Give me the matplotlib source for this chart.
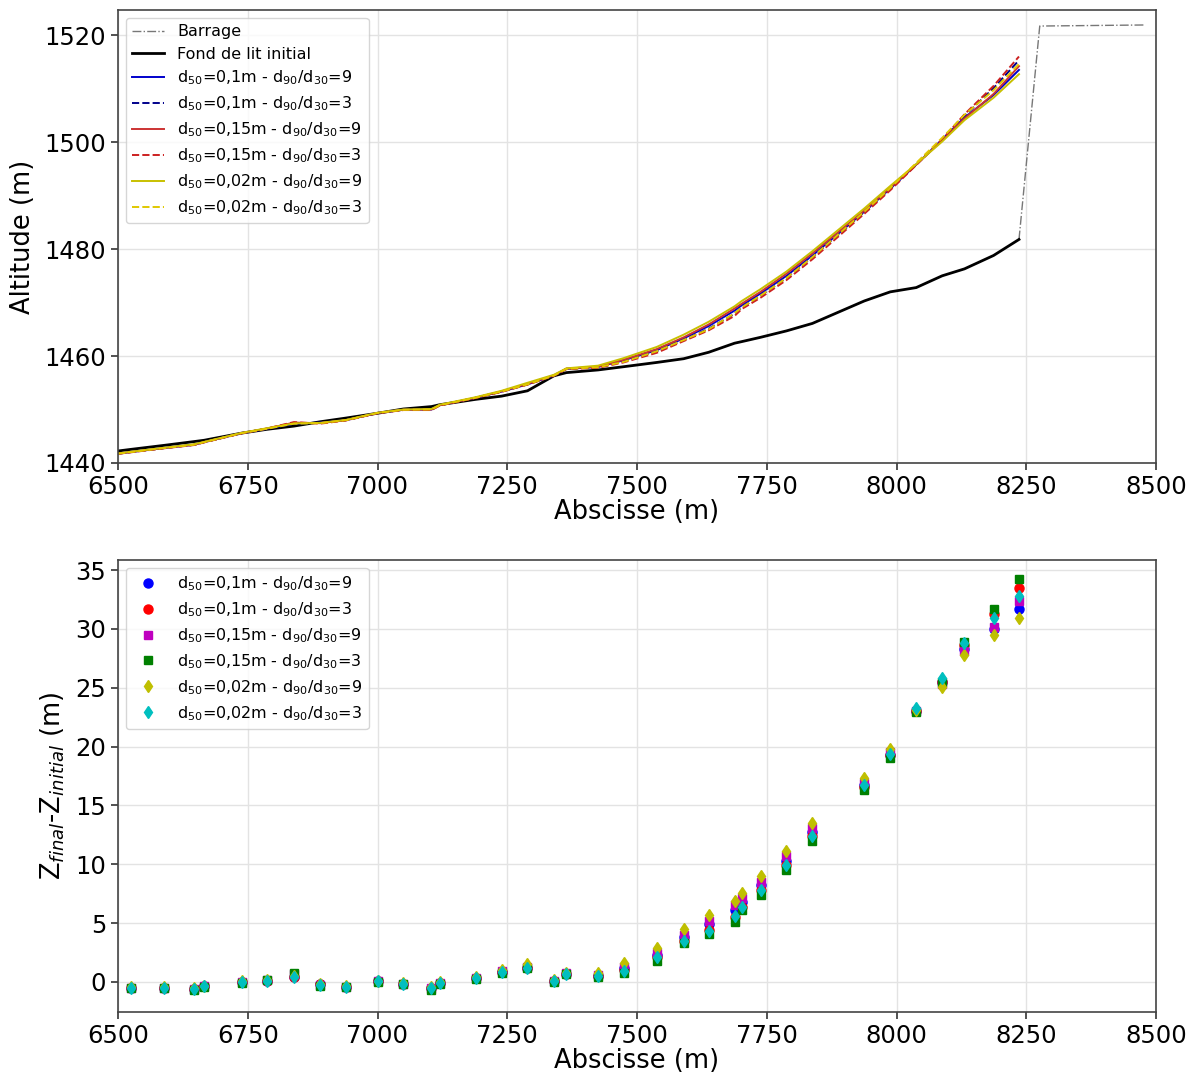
import numpy as np
import matplotlib
matplotlib.use("Agg")
import matplotlib.pyplot as plt

# ---------------- data ----------------
sections = [6480, 6525, 6589, 6646, 6666, 6739, 6787, 6839, 6889, 6939, 7000,
            7050, 7104, 7120, 7189, 7239, 7289, 7340, 7364, 7425, 7474,
            7538, 7590, 7638, 7688, 7702, 7738, 7788, 7838, 7938, 7988,
            8038, 8088, 8131, 8187, 8236]

z_initial = [1442.0, 1442.55, 1443.3, 1444.0, 1444.25, 1445.6, 1446.3, 1446.9,
             1447.7, 1448.4, 1449.3, 1450.1, 1450.55, 1450.9, 1451.9, 1452.5,
             1453.5, 1456.3, 1456.9, 1457.4, 1458.0, 1458.8, 1459.5, 1460.7,
             1462.4, 1462.7, 1463.5, 1464.7, 1466.1, 1470.3, 1472.0, 1472.8,
             1475.0, 1476.3, 1478.8, 1481.8]

barrage_x = [8236, 8276, 8478]
barrage_z = [1481.8, 1521.7, 1521.9]

# Z_final - Z_initial for each simulation
dz_d01_r9 = [-0.5, -0.5, -0.5, -0.6, -0.35, 0.0, 0.1, 0.45, -0.15, -0.4, 0.05,
             -0.15, -0.55, -0.1, 0.3, 0.85, 1.2, 0.05, 0.7, 0.55, 1.2,
             2.3, 3.8, 4.9, 6.1, 6.8, 8.2, 10.3, 12.7, 16.7, 19.3,
             23.0, 25.5, 28.3, 30.0, 31.7]
dz_d01_r3 = [-0.5, -0.5, -0.5, -0.6, -0.35, 0.0, 0.1, 0.45, -0.2, -0.4, 0.05,
             -0.15, -0.55, -0.1, 0.3, 0.85, 1.2, 0.05, 0.7, 0.5, 1.0,
             2.1, 3.5, 4.4, 5.5, 6.4, 7.8, 9.9, 12.4, 16.6, 19.3,
             23.0, 25.5, 28.6, 31.3, 33.5]
dz_d015_r9 = [-0.5, -0.5, -0.5, -0.6, -0.35, 0.0, 0.15, 0.65, -0.25, -0.4, 0.05,
              -0.15, -0.55, -0.1, 0.3, 0.9, 1.3, 0.1, 0.75, 0.6, 1.3,
              2.5, 4.0, 5.2, 6.5, 7.1, 8.5, 10.7, 13.1, 16.9, 19.5,
              23.0, 25.3, 28.1, 30.2, 32.4]
dz_d015_r3 = [-0.5, -0.55, -0.55, -0.65, -0.4, -0.05, 0.15, 0.75, -0.35, -0.45, 0.0,
              -0.2, -0.65, -0.15, 0.25, 0.8, 1.15, 0.0, 0.65, 0.4, 0.8,
              1.8, 3.3, 4.1, 5.1, 6.1, 7.4, 9.5, 12.0, 16.3, 19.0,
              22.9, 25.5, 28.9, 31.7, 34.2]
dz_d002_r9 = [-0.45, -0.45, -0.45, -0.5, -0.3, 0.05, 0.2, 0.5, -0.2, -0.35, 0.1,
              -0.1, -0.45, 0.0, 0.4, 1.0, 1.5, 0.2, 0.8, 0.8, 1.6,
              2.9, 4.5, 5.7, 6.9, 7.6, 9.0, 11.1, 13.5, 17.3, 19.8,
              23.1, 25.1, 27.8, 29.5, 30.9]
dz_d002_r3 = [-0.5, -0.5, -0.5, -0.6, -0.35, 0.0, 0.1, 0.45, -0.25, -0.4, 0.05,
              -0.15, -0.55, -0.1, 0.3, 0.85, 1.2, 0.05, 0.7, 0.5, 0.9,
              2.1, 3.5, 4.3, 5.6, 6.4, 7.8, 9.9, 12.4, 16.7, 19.4,
              23.3, 25.8, 28.8, 30.9, 32.8]

labels = ['d$_{50}$=0,1m - d$_{90}$/d$_{30}$=9',
          'd$_{50}$=0,1m - d$_{90}$/d$_{30}$=3',
          'd$_{50}$=0,15m - d$_{90}$/d$_{30}$=9',
          'd$_{50}$=0,15m - d$_{90}$/d$_{30}$=3',
          'd$_{50}$=0,02m - d$_{90}$/d$_{30}$=9',
          'd$_{50}$=0,02m - d$_{90}$/d$_{30}$=3']
dz_series = [dz_d01_r9, dz_d01_r3, dz_d015_r9, dz_d015_r3, dz_d002_r9, dz_d002_r3]

x_ticks = [6500, 6750, 7000, 7250, 7500, 7750, 8000, 8250, 8500]

# ---------------- styles ----------------
line_colors = ['#0000cc', '#00008b', '#cc3333', '#cc2020', '#c8c000', '#e0c800']
line_styles = ['-', '--', '-', '--', '-', '--']
mk_colors = ['b', 'r', 'm', 'g', 'y', 'c']
mk_shapes = ['o', 'o', 's', 's', 'd', 'd']

plt.rcParams['font.family'] = ['DejaVu Sans']
fig = plt.figure(figsize=(11.99, 10.79), dpi=100)

ax1 = fig.add_axes([118/1199, 1 - 463/1079, 1038/1199, 453/1079])
ax2 = fig.add_axes([118/1199, 1 - 1012/1079, 1038/1199, 452/1079])

x = np.array(sections)
z0 = np.array(z_initial)

ax1.plot(barrage_x, barrage_z, color='#777777', ls='-.', lw=1.0, label='Barrage')
ax1.plot(x, z0, color='black', lw=2.0, label='Fond de lit initial')
for dz, c, ls, lab in zip(dz_series, line_colors, line_styles, labels):
    ax1.plot(x, z0 + np.array(dz), color=c, ls=ls, lw=1.4, label=lab)

for dz, c, m, lab in zip(dz_series, mk_colors, mk_shapes, labels):
    ms = 6.5 if m != 's' else 6
    ax2.plot(x, dz, ls='none', marker=m, color=c, markersize=ms, label=lab)

for ax in (ax1, ax2):
    ax.set_xlim(6500, 8500)
    ax.set_xticks(x_ticks)
    ax.grid(True, color='#e3e3e3', lw=1.0)
    ax.set_axisbelow(True)
    ax.tick_params(labelsize=17.5, length=5, width=1.2, colors='#333333', labelcolor='black')
    for sp in ax.spines.values():
        sp.set_color('#444444')
        sp.set_linewidth(1.2)
    ax.set_xlabel('Abscisse (m)', fontsize=18.5, labelpad=0)

ax1.set_ylim(1440, 1524.7)
ax1.set_yticks([1440, 1460, 1480, 1500, 1520])
ax1.set_ylabel('Altitude (m)', fontsize=18.5, labelpad=6)

ax2.set_ylim(-2.55, 35.85)
ax2.set_yticks([0, 5, 10, 15, 20, 25, 30, 35])
ax2.set_ylabel('Z$_{final}$-Z$_{initial}$ (m)', fontsize=18.5, labelpad=6)

ax1.legend(loc='upper left', fontsize=11.5, borderaxespad=0.5, handlelength=2.0,
           labelspacing=0.45)
ax2.legend(loc='upper left', fontsize=11.5, borderaxespad=0.5, handlelength=2.0,
           labelspacing=0.45)

fig.savefig('out.png', dpi=100)
